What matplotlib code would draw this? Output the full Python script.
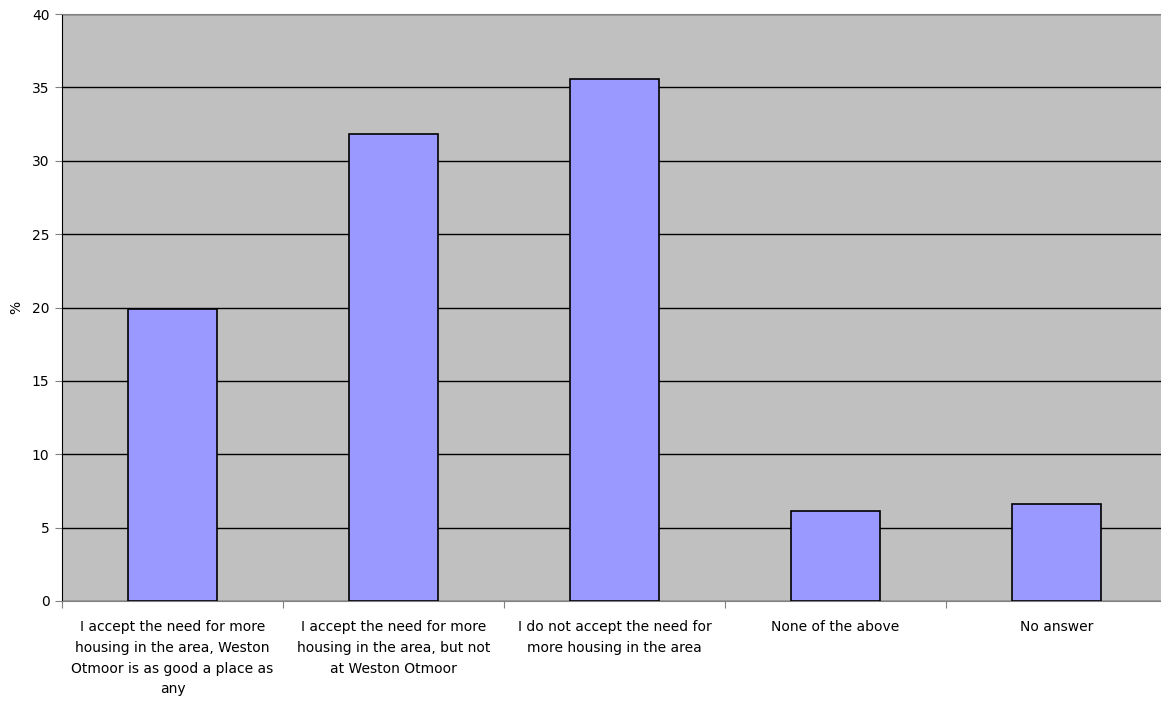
import numpy as np
import matplotlib.pyplot as plt

categories = [
    "I accept the need for more\nhousing in the area, Weston\nOtmoor is as good a place as\nany",
    "I accept the need for more\nhousing in the area, but not\nat Weston Otmoor",
    "I do not accept the need for\nmore housing in the area",
    "None of the above",
    "No answer",
]
values = [19.9, 31.8, 35.6, 6.1, 6.6]

plt.rcParams['font.family'] = ['DejaVu Sans']

fig = plt.figure(figsize=(11.61, 7.01), dpi=100)
ax = fig.add_axes([62 / 1161, 100 / 701, 1105 / 1161, 587 / 701])
ax.set_facecolor('#C0C0C0')

x = np.arange(len(categories))
ax.bar(x, values, width=0.4, color='#9999FF', edgecolor='black', linewidth=1.2, zorder=3)

ax.set_xlim(-0.5, len(categories) - 0.5)
ax.set_ylim(0, 40)
ax.set_yticks(np.arange(0, 41, 5))
ax.yaxis.grid(True, color='black', linewidth=1, zorder=1)
ax.set_axisbelow(True)

ax.set_xticks(np.arange(-0.5, len(categories), 1.0))
ax.set_xticklabels([])
ax.set_xticks(x, minor=True)
ax.set_xticklabels(categories, minor=True, fontsize=10, linespacing=1.6)
ax.tick_params(axis='x', which='minor', length=0, pad=14)
ax.tick_params(axis='x', which='major', length=5, color='#808080')
ax.tick_params(axis='y', length=5, color='#808080', labelsize=10, pad=4)

ax.set_ylabel('%', fontsize=10, labelpad=6)

ax.spines['top'].set_color('#808080')
ax.spines['right'].set_visible(False)
ax.spines['left'].set_color('black')
ax.spines['bottom'].set_color('#808080')

fig.savefig('out.png', dpi=100)
